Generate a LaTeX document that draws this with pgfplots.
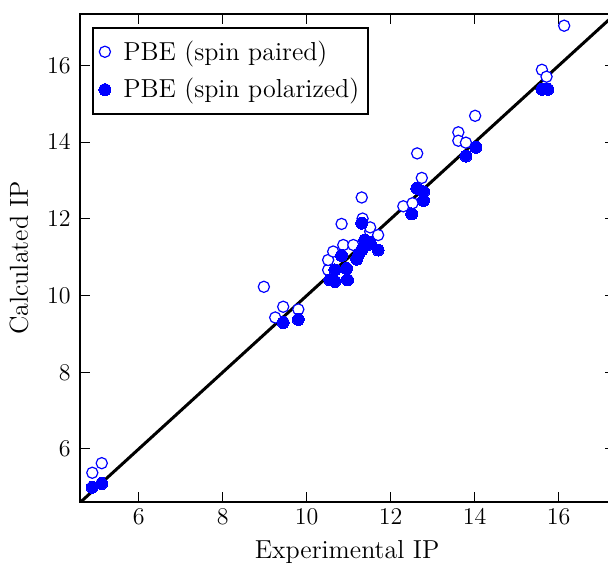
\documentclass[border=0pt]{standalone}
\usepackage{pgfplots}
\pgfplotsset{compat=1.18}
\begin{document}
\begin{tikzpicture}[font=\fontsize{12}{14.4}\selectfont]
\begin{axis}[
  x=21pt, y=19.17pt,
  xmin=4.595, xmax=17.33, ymin=4.625, ymax=17.35,
  xtick={6,8,10,12,14,16}, ytick={6,8,10,12,14,16},
  tick align=inside, major tick length=5pt,
  every tick/.style={black, line width=0.5pt},
  axis line style={line width=1.1pt},
  xlabel={Experimental IP}, ylabel={Calculated IP},
  label style={font=\fontsize{13}{15.6}\selectfont},
  xlabel style={yshift=-1pt},
  ylabel style={yshift=2.5pt},
  yticklabel style={xshift=-1pt},
  legend style={at={(0,1)}, anchor=north west, xshift=6pt, yshift=-6.35pt,
    draw=black, line width=1pt, font=\fontsize{13}{15.6}\selectfont,
    row sep=3.7pt, inner xsep=2.6pt, inner ysep=4.5pt},
  legend cell align=left,
  legend image code/.code={\path (-3pt,0pt) (6.7pt,0pt);
    \draw[#1, only marks] plot coordinates {(0pt,0pt)};},
  clip=true,
]
\addplot[only marks, mark=*, mark size=2.8pt, blue, mark options={fill=white, draw=blue, line width=0.6pt}] coordinates {
(4.895,5.38) (5.12,5.63) (8.98,10.23) (9.25,9.43) (9.44,9.71) (9.80,9.64)
(10.51,10.67) (10.51,10.93) (10.63,11.15) (10.83,11.87) (10.87,11.32)
(11.11,11.32) (11.31,12.56) (11.33,12.01) (11.51,11.67) (11.51,11.78)
(11.70,11.58) (12.30,12.33) (12.52,12.41) (12.63,13.71) (12.74,13.07)
(13.61,14.26) (13.61,14.04) (13.79,13.99) (14.01,14.69) (15.60,15.89)
(15.71,15.71) (16.13,17.04)
};
\addlegendentry{PBE (spin paired)}
\addplot[only marks, mark=*, mark size=3pt, blue, mark options={fill=blue, draw=blue, line width=0pt}] coordinates {
(4.895,5.00) (5.12,5.10) (9.44,9.30) (9.80,9.38)
(10.55,10.41) (10.67,10.37) (10.97,10.41) (10.67,10.67) (10.95,10.71)
(10.83,11.05) (11.19,10.95) (11.31,11.19) (11.44,11.32) (11.51,11.38)
(11.70,11.19) (11.31,11.89) (11.38,11.45) (11.25,11.1)
(12.50,12.13) (12.62,12.80) (12.78,12.71) (12.78,12.48)
(13.79,13.64) (14.03,13.87) (15.60,15.38) (15.74,15.38)
};
\addlegendentry{PBE (spin polarized)}
\addplot[black, line width=1.5pt, forget plot] coordinates {(4.4,4.4) (17.6,17.6)};
\end{axis}
\pgfresetboundingbox
\path[use as bounding box] ([shift={(-39.85pt,-30.65pt)}]current axis.south west) rectangle ([shift={(264.15pt,250.85pt)}]current axis.south west);
\end{tikzpicture}
\end{document}
